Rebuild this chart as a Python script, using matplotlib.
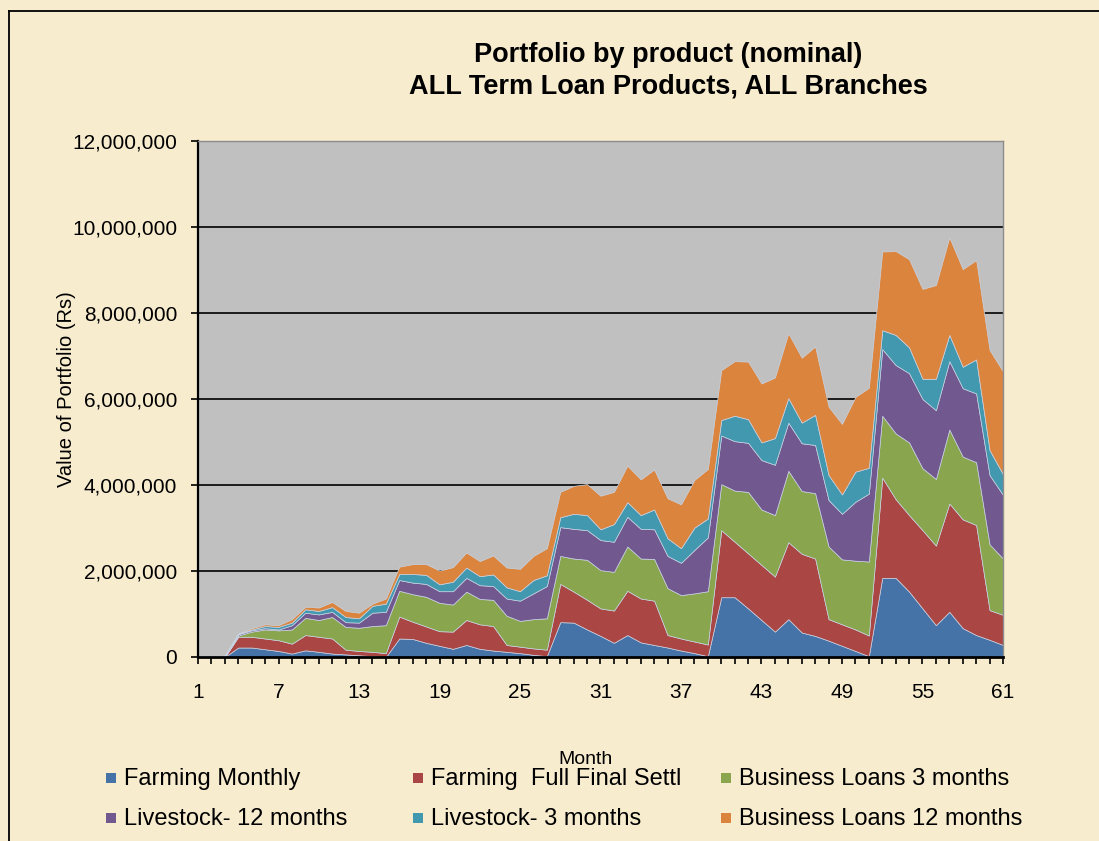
"""stacked area: term loan portfolio by product"""
import numpy as np
import matplotlib
matplotlib.use("Agg")
import matplotlib.pyplot as plt
from matplotlib.patches import Rectangle
from matplotlib.lines import Line2D
from matplotlib.ticker import FuncFormatter

plt.rcParams['font.family'] = ['Liberation Sans', 'DejaVu Sans']

months = list(range(1, 62))

# portfolio value per product, millions of Rs
farming_monthly = [0, 0, 0, .22, .22, .18, .14, .08, .155, .12, .08, .06, .04, .02, 0,
                   .43, .42, .33, .26, .19, .28, .19, .15, .12, .09, .05, .02,
                   .81, .80, .64, .49, .33, .51, .34, .28, .22, .15, .09, .02,
                   1.39, 1.39, 1.13, .86, .59, .88, .57, .49, .38, .26, .14, .02,
                   1.84, 1.84, 1.52, 1.13, .74, 1.05, .67, .51, .40, .28]
farming_ffs = [0, 0, 0, .25, .25, .25, .25, .23, .355, .35, .35, .11, .10, .10, .09,
               .51, .40, .38, .34, .40, .58, .57, .57, .16, .15, .15, .15,
               .89, .72, .69, .64, .75, 1.03, 1.02, 1.03, .29, .28, .27, .27,
               1.56, 1.29, 1.28, 1.28, 1.28, 1.79, 1.83, 1.80, .50, .50, .50, .48,
               2.33, 1.83, 1.78, 1.82, 1.85, 2.52, 2.53, 2.56, .69, .70]
business_3m = [0, 0, 0, .03, .12, .21, .23, .33, .40, .39, .50, .53, .54, .60, .65,
               .60, .64, .69, .66, .63, .66, .59, .61, .68, .60, .68, .73,
               .65, .77, .93, .89, .90, 1.03, .93, .97, 1.09, 1.01, 1.12, 1.24,
               1.07, 1.19, 1.43, 1.29, 1.43, 1.66, 1.46, 1.52, 1.69, 1.51, 1.60, 1.72,
               1.44, 1.53, 1.69, 1.44, 1.55, 1.72, 1.46, 1.46, 1.53, 1.31]
livestock_12m = [0, 0, .01, .03, .03, .03, .02, .10, .12, .13, .12, .11, .12, .31, .31,
                 .25, .27, .30, .27, .31, .32, .32, .32, .40, .47, .60, .75,
                 .67, .69, .69, .70, .70, .69, .69, .69, .75, .75, 1.01, 1.25,
                 1.13, 1.15, 1.14, 1.15, 1.17, 1.12, 1.11, 1.12, 1.08, 1.06, 1.37, 1.58,
                 1.55, 1.59, 1.61, 1.61, 1.60, 1.59, 1.59, 1.60, 1.61, 1.48]
livestock_3m = [.01, .02, .02, .01, .02, .05, .06, .06, .08, .08, .11, .12, .10, .16, .19,
                .14, .20, .21, .16, .22, .24, .21, .27, .26, .22, .31, .25,
                .23, .35, .35, .25, .41, .34, .32, .46, .41, .34, .52, .44,
                .36, .59, .55, .41, .62, .57, .48, .70, .58, .45, .70, .60,
                .44, .70, .60, .47, .73, .61, .50, .79, .58, .48]
business_12m = [0, 0, 0, .01, .03, .04, .04, .08, .06, .08, .12, .14, .13, .05, .12,
                .17, .23, .25, .32, .34, .35, .35, .44, .46, .52, .56, .63,
                .59, .65, .72, .78, .75, .85, .83, .93, .93, 1.02, 1.11, 1.15,
                1.16, 1.27, 1.34, 1.37, 1.41, 1.51, 1.51, 1.59, 1.59, 1.64, 1.74, 1.86,
                1.83, 1.95, 2.05, 2.09, 2.18, 2.27, 2.27, 2.31, 2.33, 2.39]

labels = ['Farming Monthly', 'Farming  Full Final Settl', 'Business Loans 3 months',
          'Livestock- 12 months', 'Livestock- 3 months', 'Business Loans 12 months']
colors = ['#4572A7', '#AA4643', '#89A54E', '#71588F', '#4198AF', '#DB843D']

W, H = 1099, 841
bg = '#F8ECCF'
fig = plt.figure(figsize=(W / 100, H / 100), dpi=100, facecolor=bg)
ax = fig.add_axes([198 / W, 1 - 657 / H, (1003 - 198) / W, (657 - 141) / H])
ax.set_facecolor('#C0C0C0')

series = [farming_monthly, farming_ffs, business_3m, livestock_12m, livestock_3m, business_12m]
ys = [np.array(s) * 1e6 for s in series]
ax.stackplot(months, *ys, colors=colors, labels=labels,
             edgecolor='#C9D3E3', linewidth=0.5, zorder=2)

ax.set_xlim(1, 61)
ax.set_ylim(0, 12e6)
ax.set_yticks(np.arange(0, 12e6 + 1, 2e6))
ax.yaxis.set_major_formatter(FuncFormatter(lambda v, p: f'{int(v):,}'))
ax.set_xticks(months)
ax.set_xticklabels([str(m) if (m - 1) % 6 == 0 else '' for m in months])

for g in np.arange(2e6, 12e6, 2e6):
    ax.axhline(g, color='black', linewidth=1.2, zorder=1)

ax.tick_params(axis='both', direction='out', colors='black', labelsize=15, width=1.2)
ax.tick_params(axis='y', length=5, pad=10)
ax.tick_params(axis='x', length=5, pad=14)
ax.spines['left'].set_linewidth(1.6)
ax.spines['bottom'].set_linewidth(2.0)
ax.spines['top'].set_color('#8C8C8C')
ax.spines['right'].set_color('#8C8C8C')
ax.spines['top'].set_linewidth(1.0)
ax.spines['right'].set_linewidth(1.0)

fig.text(67 / W, 1 - 389 / H, 'Value of Portfolio (Rs)', fontsize=14.5,
         rotation=90, ha='center', va='center')
fig.text(586 / W, 1 - 760 / H, 'Month', fontsize=14, ha='center', va='center')

fig.text(668 / W, 1 - 55 / H, 'Portfolio by product (nominal)', fontsize=19.5,
         fontweight='bold', ha='center', va='center')
fig.text(668 / W, 1 - 87 / H, 'ALL Term Loan Products, ALL Branches', fontsize=19.5,
         fontweight='bold', ha='center', va='center')

# legend, 3 columns x 2 rows as in the original
col_x = [106, 413, 721]
row_y = [778, 818]
for k in range(len(labels)):
    r, c = divmod(k, 3)
    x0, y0 = col_x[c], row_y[r]
    fig.patches.append(Rectangle((x0 / W, 1 - (y0 + 5) / H), 10 / W, 10 / H,
                                 transform=fig.transFigure, facecolor=colors[k],
                                 edgecolor='none'))
    fig.text((x0 + 18) / W, 1 - (y0 + 1) / H, labels[k], fontsize=17,
             ha='left', va='center')

# outer frame of the chart object
fig.lines.append(Line2D([8.5 / W, 8.5 / W], [0, 1 - 11 / H], transform=fig.transFigure,
                        color='black', linewidth=1.3))
fig.lines.append(Line2D([8.5 / W, 1], [1 - 11 / H, 1 - 11 / H], transform=fig.transFigure,
                        color='black', linewidth=1.3))

fig.savefig('out.png', dpi=100, facecolor=bg)
